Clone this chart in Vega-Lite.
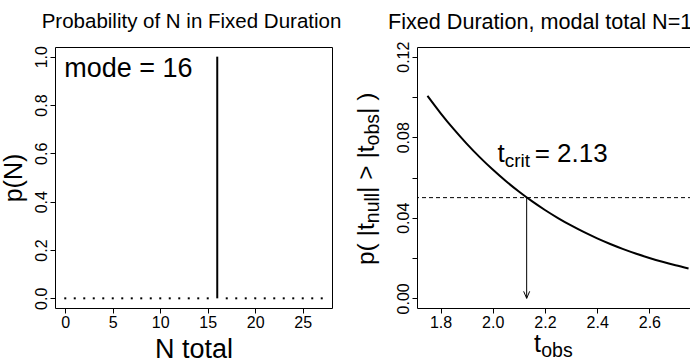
{
  "$schema": "https://vega.github.io/schema/vega-lite/v6.json",
  "padding": {"left": 0, "top": 11, "right": 0, "bottom": 0},
  "autosize": {"type": "pad"},
  "background": "white",
  "spacing": 85,
  "bounds": "flush",
  "datasets": {
    "dist": [
      {"N": 0, "p": 0}, {"N": 1, "p": 0}, {"N": 2, "p": 0}, {"N": 3, "p": 0},
      {"N": 4, "p": 0}, {"N": 5, "p": 0}, {"N": 6, "p": 0}, {"N": 7, "p": 0},
      {"N": 8, "p": 0}, {"N": 9, "p": 0}, {"N": 10, "p": 0}, {"N": 11, "p": 0},
      {"N": 12, "p": 0}, {"N": 13, "p": 0}, {"N": 14, "p": 0}, {"N": 15, "p": 0},
      {"N": 16, "p": 1}, {"N": 17, "p": 0}, {"N": 18, "p": 0}, {"N": 19, "p": 0},
      {"N": 20, "p": 0}, {"N": 21, "p": 0}, {"N": 22, "p": 0}, {"N": 23, "p": 0},
      {"N": 24, "p": 0}, {"N": 25, "p": 0}, {"N": 26, "p": 0}, {"N": 27, "p": 0}
    ],
    "curve": [
      {"t": 1.75, "p": 0.10054}, {"t": 1.80, "p": 0.09200}, {"t": 1.85, "p": 0.08410},
      {"t": 1.90, "p": 0.07682}, {"t": 1.95, "p": 0.07010}, {"t": 2.00, "p": 0.06393},
      {"t": 2.05, "p": 0.05825}, {"t": 2.10, "p": 0.05303}, {"t": 2.15, "p": 0.04825},
      {"t": 2.20, "p": 0.04387}, {"t": 2.25, "p": 0.03986}, {"t": 2.30, "p": 0.03619},
      {"t": 2.35, "p": 0.03284}, {"t": 2.40, "p": 0.02979}, {"t": 2.45, "p": 0.02700},
      {"t": 2.50, "p": 0.02446}, {"t": 2.55, "p": 0.02215}, {"t": 2.60, "p": 0.02005},
      {"t": 2.65, "p": 0.01814}, {"t": 2.70, "p": 0.01641}, {"t": 2.75, "p": 0.01484}
    ],
    "crit": [{"tcrit": 2.13, "alpha": 0.05, "base": 0}]
  },
  "hconcat": [
    {
      "width": 277,
      "height": 261,
      "title": {"text": "Probability of N in Fixed Duration", "fontSize": 20.5, "anchor": "middle", "frame": "group", "baseline": "alphabetic", "offset": -3.3, "dx": -2},
      "data": {"name": "dist"},
      "layer": [
        {
          "mark": {"type": "rule", "strokeWidth": 2, "color": "black"},
          "encoding": {
            "x": {"field": "N", "type": "quantitative",
              "scale": {"domain": [-1.08, 28.08], "nice": false, "zero": false},
              "axis": {"values": [0, 5, 10, 15, 20, 25], "format": "d", "title": "N total", "titleFontSize": 27, "titleBaseline": "alphabetic", "titleY": 49, "labelPadding": 1.5, "labelBaseline": "top", "labelFlush": false, "labelOverlap": false}},
            "y": {"field": "p", "type": "quantitative",
              "scale": {"domain": [-0.04, 1.04], "nice": false, "zero": false},
              "axis": {"values": [0, 0.2, 0.4, 0.6, 0.8, 1], "format": ".1f", "title": "p(N)", "titleFontSize": 25, "titleAngle": 270, "titleAlign": "center", "titleBaseline": "alphabetic", "titleX": -34, "titleY": 130.5, "labelAngle": 270, "labelAlign": "center", "labelBaseline": "alphabetic", "labelPadding": 4, "labelFlush": false, "labelOverlap": false}},
            "y2": {"datum": 0}
          }
        },
        {
          "transform": [{"filter": "datum.p == 0"}],
          "mark": {"type": "point", "shape": "square", "size": 4, "filled": true, "color": "black", "opacity": 1},
          "encoding": {
            "x": {"field": "N", "type": "quantitative"},
            "y": {"field": "p", "type": "quantitative"}
          }
        },
        {
          "data": {"values": [{"label": "mode = 16"}]},
          "mark": {"type": "text", "fontSize": 27, "align": "left", "baseline": "alphabetic", "dx": -1, "color": "black"},
          "encoding": {
            "x": {"datum": 0, "type": "quantitative"},
            "y": {"datum": 0.9146, "type": "quantitative"},
            "text": {"field": "label"}
          }
        }
      ]
    },
    {
      "width": 282,
      "height": 261,
      "title": {"text": "Fixed Duration, modal total N=16", "fontSize": 21.6, "anchor": "start", "frame": "group", "baseline": "alphabetic", "offset": -9.3, "dx": -29},
      "layer": [
        {
          "data": {"name": "curve"},
          "mark": {"type": "line", "color": "black", "strokeWidth": 2, "interpolate": "monotone"},
          "encoding": {
            "x": {"field": "t", "type": "quantitative",
              "scale": {"domain": [1.71, 2.79], "nice": false, "zero": false},
              "axis": {"values": [1.8, 2.0, 2.2, 2.4, 2.6], "format": ".1f", "title": null, "labelPadding": 1.5, "labelBaseline": "top", "labelFlush": false, "labelOverlap": false}},
            "y": {"field": "p", "type": "quantitative",
              "scale": {"domain": [-0.0048, 0.1248], "nice": false, "zero": false},
              "axis": {"values": [0, 0.02, 0.04, 0.06, 0.08, 0.1, 0.12], "format": ".2f", "labelExpr": "indexof(['0.00','0.04','0.08','0.12'], datum.label) >= 0 ? datum.label : ''", "title": null, "labelAngle": 270, "labelAlign": "center", "labelBaseline": "alphabetic", "labelPadding": 3.5, "labelFlush": false, "labelOverlap": false}}
          }
        },
        {
          "data": {"name": "crit"},
          "mark": {"type": "rule", "strokeDash": [4, 3], "strokeWidth": 1, "color": "black"},
          "encoding": {"y": {"field": "alpha", "type": "quantitative", "title": null}}
        },
        {
          "data": {"name": "crit"},
          "mark": {"type": "rule", "strokeWidth": 1, "color": "black"},
          "encoding": {
            "x": {"field": "tcrit", "type": "quantitative", "title": null},
            "y": {"field": "alpha", "type": "quantitative", "title": null},
            "y2": {"field": "base"}
          }
        },
        {
          "data": {"name": "crit"},
          "mark": {"type": "point", "shape": "M-0.43,-1L0,0L0.43,-1", "size": 196, "filled": false, "stroke": "black", "strokeWidth": 1, "opacity": 1},
          "encoding": {
            "x": {"field": "tcrit", "type": "quantitative", "title": null},
            "y": {"field": "base", "type": "quantitative", "title": null}
          }
        },
        {
          "data": {"values": [{"s": "t"}]},
          "mark": {"type": "text", "fontSize": 26, "align": "left", "baseline": "alphabetic", "color": "black"},
          "encoding": {"x": {"datum": 2.0183, "type": "quantitative"}, "y": {"datum": 0.06755, "type": "quantitative"}, "text": {"field": "s"}}
        },
        {
          "data": {"values": [{"s": "crit"}]},
          "mark": {"type": "text", "fontSize": 19, "align": "left", "baseline": "alphabetic", "dx": 7.2, "dy": 5, "color": "black"},
          "encoding": {"x": {"datum": 2.0183, "type": "quantitative"}, "y": {"datum": 0.06755, "type": "quantitative"}, "text": {"field": "s"}}
        },
        {
          "data": {"values": [{"s": "= 2.13"}]},
          "mark": {"type": "text", "fontSize": 26, "align": "left", "baseline": "alphabetic", "dx": 37.2, "color": "black"},
          "encoding": {"x": {"datum": 2.0183, "type": "quantitative"}, "y": {"datum": 0.06755, "type": "quantitative"}, "text": {"field": "s"}}
        },
        {
          "data": {"values": [{"s": "t"}]},
          "mark": {"type": "text", "fontSize": 25, "align": "left", "baseline": "alphabetic", "color": "black"},
          "encoding": {"x": {"datum": 2.1581, "type": "quantitative"}, "y": {"datum": -0.0268, "type": "quantitative"}, "text": {"field": "s"}}
        },
        {
          "data": {"values": [{"s": "obs"}]},
          "mark": {"type": "text", "fontSize": 19.5, "align": "left", "baseline": "alphabetic", "dx": 7.2, "dy": 4.4, "color": "black"},
          "encoding": {"x": {"datum": 2.1581, "type": "quantitative"}, "y": {"datum": -0.0268, "type": "quantitative"}, "text": {"field": "s"}}
        },
        {
          "data": {"values": [{"s": "p( |t"}]},
          "mark": {"type": "text", "fontSize": 24.5, "align": "left", "baseline": "alphabetic", "angle": 270, "color": "black"},
          "encoding": {"x": {"datum": 1.5453, "type": "quantitative"}, "y": {"datum": 0.01655, "type": "quantitative"}, "text": {"field": "s"}}
        },
        {
          "data": {"values": [{"s": "null"}]},
          "mark": {"type": "text", "fontSize": 19.5, "align": "left", "baseline": "alphabetic", "angle": 270, "dx": 41.8, "dy": 5.5, "color": "black"},
          "encoding": {"x": {"datum": 1.5453, "type": "quantitative"}, "y": {"datum": 0.01655, "type": "quantitative"}, "text": {"field": "s"}}
        },
        {
          "data": {"values": [{"s": "| > |t"}]},
          "mark": {"type": "text", "fontSize": 24.5, "align": "left", "baseline": "alphabetic", "angle": 270, "dx": 72.1, "color": "black"},
          "encoding": {"x": {"datum": 1.5453, "type": "quantitative"}, "y": {"datum": 0.01655, "type": "quantitative"}, "text": {"field": "s"}}
        },
        {
          "data": {"values": [{"s": "obs"}]},
          "mark": {"type": "text", "fontSize": 19.5, "align": "left", "baseline": "alphabetic", "angle": 270, "dx": 119.6, "dy": 5.5, "color": "black"},
          "encoding": {"x": {"datum": 1.5453, "type": "quantitative"}, "y": {"datum": 0.01655, "type": "quantitative"}, "text": {"field": "s"}}
        },
        {
          "data": {"values": [{"s": "| )"}]},
          "mark": {"type": "text", "fontSize": 24.5, "align": "left", "baseline": "alphabetic", "angle": 270, "dx": 151.0, "color": "black"},
          "encoding": {"x": {"datum": 1.5453, "type": "quantitative"}, "y": {"datum": 0.01655, "type": "quantitative"}, "text": {"field": "s"}}
        }
      ]
    }
  ],
  "config": {
    "font": "Liberation Sans",
    "view": {"stroke": "black", "strokeWidth": 1},
    "axis": {"grid": false, "domain": false, "tickColor": "black", "tickSize": 5, "tickWidth": 1, "labelColor": "black", "labelFont": "Liberation Sans", "labelFontSize": 16, "titleColor": "black", "titleFont": "Liberation Sans", "titleFontWeight": "normal"},
    "title": {"font": "Liberation Sans", "fontWeight": "normal", "color": "black"},
    "text": {"font": "Liberation Sans"}
  }
}
